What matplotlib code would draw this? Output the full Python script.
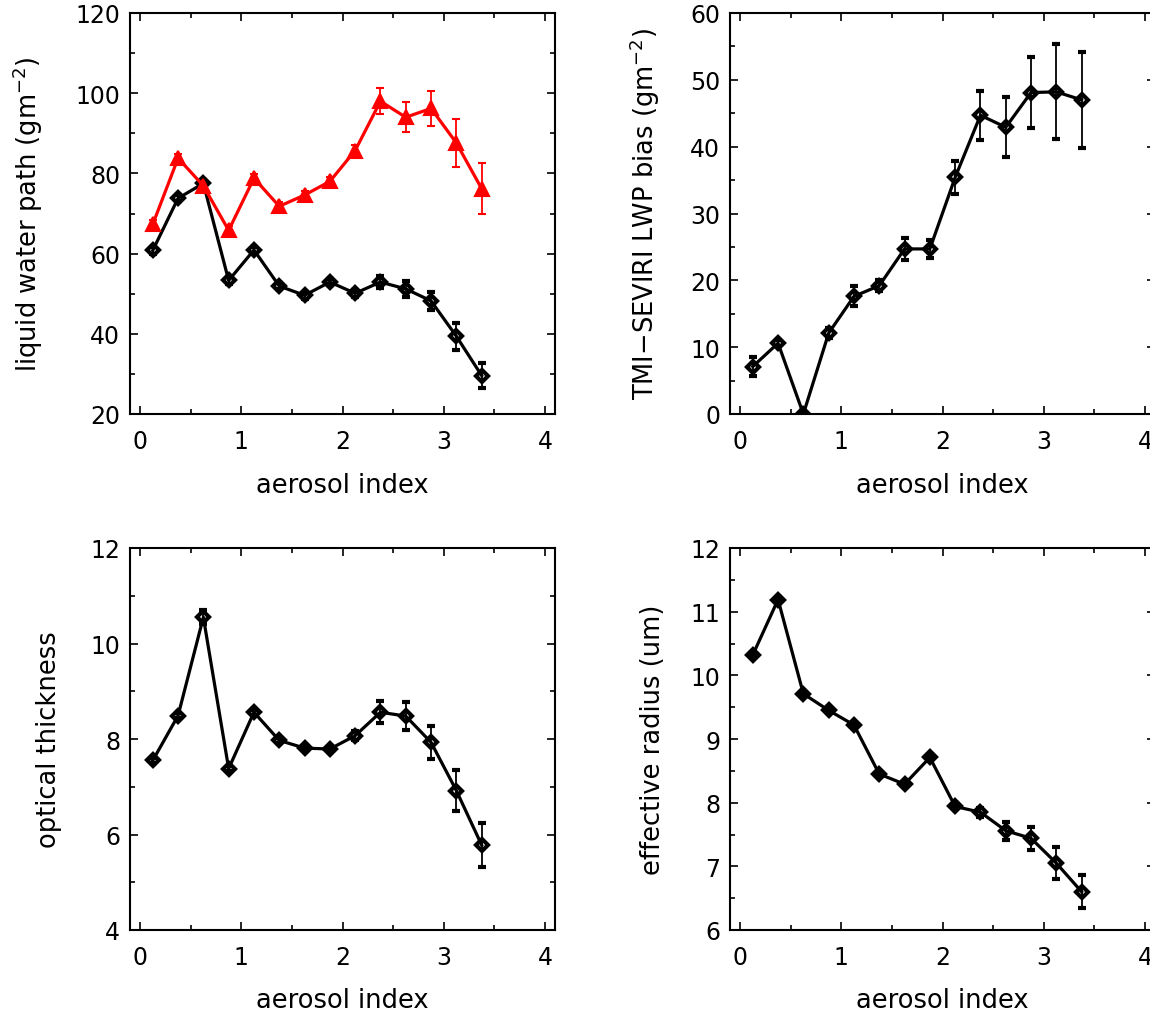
import numpy as np
import matplotlib
matplotlib.use("Agg")
import matplotlib.pyplot as plt
from matplotlib.ticker import MultipleLocator

plt.rcParams['font.family'] = ['DejaVu Sans']
plt.rcParams['mathtext.default'] = 'regular'

# aerosol index bin centres
aerosol_index = [0.125, 0.375, 0.625, 0.875, 1.125, 1.375, 1.625,
                 1.875, 2.125, 2.375, 2.625, 2.875, 3.125, 3.375]

# liquid water path, black = SEVIRI, red = TMI
lwp_black = [60.8, 73.8, 77.5, 53.3, 60.9, 51.9, 49.6,
             52.9, 50.1, 52.9, 51.2, 48.2, 39.4, 29.6]
lwp_black_err = [0.8, 0.8, 0.8, 0.8, 0.8, 0.8, 0.8,
                 0.8, 0.8, 1.5, 1.9, 2.3, 3.4, 3.1]
lwp_red = [67.3, 83.8, 76.9, 65.8, 78.8, 71.8, 74.6,
           78.0, 85.7, 98.0, 94.0, 96.2, 87.6, 76.2]
lwp_red_err = [1.0, 1.0, 1.0, 1.0, 1.0, 1.0, 1.0,
               1.2, 1.5, 3.3, 3.7, 4.4, 6.0, 6.4]

# TMI - SEVIRI bias
bias = [7.1, 10.6, 0.0, 12.1, 17.6, 19.2, 24.7,
        24.7, 35.4, 44.7, 42.9, 48.1, 48.2, 47.0]
bias_err = [1.4, 0.5, 0.5, 0.8, 1.5, 0.8, 1.6,
            1.3, 2.5, 3.7, 4.5, 5.3, 7.1, 7.2]

# optical thickness
tau = [7.55, 8.49, 10.55, 7.38, 8.56, 7.97, 7.81,
       7.79, 8.07, 8.56, 8.48, 7.93, 6.92, 5.78]
tau_err = [0.05, 0.05, 0.15, 0.05, 0.05, 0.05, 0.05,
           0.05, 0.1, 0.23, 0.3, 0.34, 0.43, 0.46]

# effective radius
reff = [10.32, 11.19, 9.71, 9.45, 9.22, 8.45, 8.29,
        8.71, 7.94, 7.85, 7.56, 7.44, 7.05, 6.60]
reff_err = [0.03, 0.03, 0.03, 0.03, 0.03, 0.03, 0.03,
            0.03, 0.03, 0.07, 0.14, 0.18, 0.25, 0.26]

W, H = 1150, 1012
fig = plt.figure(figsize=(W / 100, H / 100), dpi=100)


def make_axes(left, top, width, height):
    # positions given in pixels from top-left
    return fig.add_axes([left / W, (H - top - height) / H, width / W, height / H])


def style(ax, ylim, ymaj, ymin, ylabel, ylab_x, xlab_y):
    ax.set_xlim(-0.1, 4.1)
    ax.set_ylim(*ylim)
    ax.xaxis.set_major_locator(MultipleLocator(1))
    ax.xaxis.set_minor_locator(MultipleLocator(0.5))
    ax.yaxis.set_major_locator(MultipleLocator(ymaj))
    ax.yaxis.set_minor_locator(MultipleLocator(ymin))
    ax.tick_params(which='both', direction='in', top=True, right=True,
                   width=1.2, labelsize=17)
    ax.tick_params(which='major', length=6)
    ax.tick_params(which='minor', length=3.5)
    ax.tick_params(axis='x', pad=11)
    ax.tick_params(axis='y', pad=7)
    for s in ax.spines.values():
        s.set_linewidth(1.5)
    ax.set_xlabel('aerosol index', fontsize=18.5)
    ax.set_ylabel(ylabel, fontsize=18.5)
    ax.xaxis.set_label_coords(0.5, xlab_y)
    ax.yaxis.set_label_coords(ylab_x, 0.5)


def draw(ax, y, err, color='black', marker='D', ms=5.8, mfc='none', mew=3):
    ax.errorbar(aerosol_index, y, yerr=err, color=color, lw=2.3,
                marker=marker, ms=ms, mfc=mfc, mec=color, mew=mew,
                ecolor=color, elinewidth=1.3, capsize=3.2, capthick=1.3)


# top left: liquid water path
ax1 = make_axes(130, 14, 425, 401)
draw(ax1, lwp_black, lwp_black_err)
draw(ax1, lwp_red, lwp_red_err, color='red', marker='^', ms=10.5, mfc='red', mew=1.5)
style(ax1, (20, 120), 20, 10, 'liquid water path (gm$^{-2}$)', -0.2, -0.145)

# top right: LWP bias (cut off at the right edge like the original)
ax2 = make_axes(730, 14, 425, 401)
draw(ax2, bias, bias_err)
style(ax2, (0, 60), 10, 5, 'TMI$-$SEVIRI LWP bias (gm$^{-2}$)', -0.16, -0.145)

# bottom left: optical thickness
ax3 = make_axes(130, 549, 425, 382)
draw(ax3, tau, tau_err)
style(ax3, (4, 12), 2, 1, 'optical thickness', -0.16, -0.15)

# bottom right: effective radius
ax4 = make_axes(730, 549, 425, 382)
draw(ax4, reff, reff_err)
style(ax4, (6, 12), 1, 0.5, 'effective radius (um)', -0.15, -0.15)

fig.savefig('out.png', dpi=100)
